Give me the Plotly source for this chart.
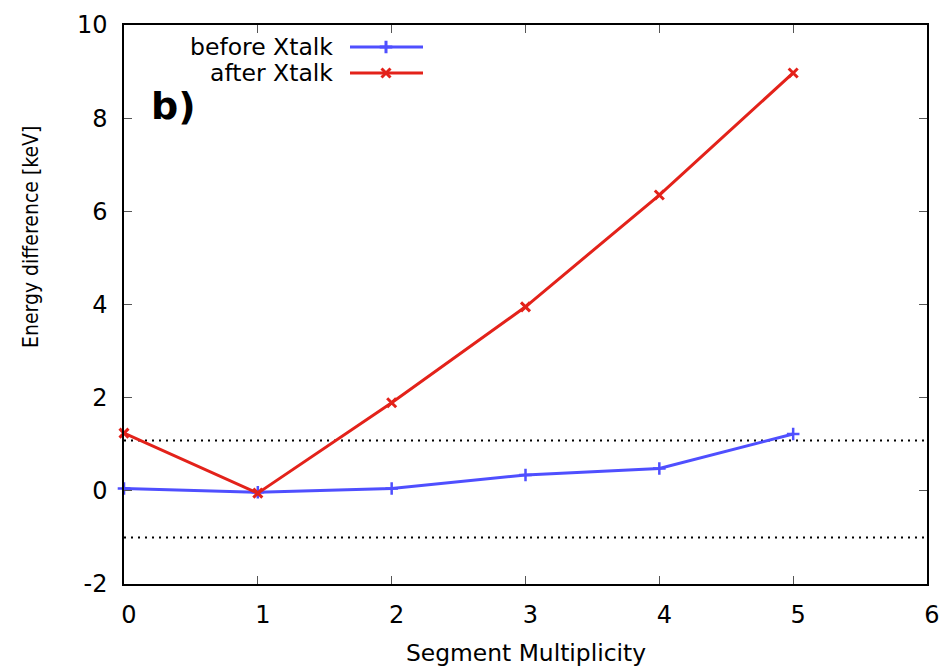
import plotly.graph_objects as go

# ---- data ----
multiplicity = [0, 1, 2, 3, 4, 5]
before_xtalk = [0.05, -0.03, 0.05, 0.34, 0.48, 1.22]
after_xtalk = [1.24, -0.05, 1.89, 3.95, 6.35, 8.97]
dotted_levels = [1.08, -1.0]
x_ticks = [0, 1, 2, 3, 4, 5, 6]
y_ticks = [-2, 0, 2, 4, 6, 8, 10]
y_tick_text = ["-2", "0", "2", "4", "6", "8", "10"]

BLUE = "#4f4fff"
RED = "#e3221a"
FONT = "DejaVu Sans"

W, H = 939, 667
L, R, T, B = 124, 12, 25, 83
PW, PH = W - L - R, H - T - B


def px(xp):
    return (xp - L) / PW


def py(yp):
    return 1 - (yp - T) / PH


fig = go.Figure()

fig.add_trace(go.Scatter(
    x=multiplicity, y=before_xtalk, mode="lines+markers",
    line=dict(color=BLUE, width=3),
    marker=dict(symbol="cross-thin", size=9, line=dict(color=BLUE, width=2.5)),
    cliponaxis=False, showlegend=False))
fig.add_trace(go.Scatter(
    x=multiplicity, y=after_xtalk, mode="lines+markers",
    line=dict(color=RED, width=3),
    marker=dict(symbol="x-thin", size=9, line=dict(color=RED, width=3)),
    cliponaxis=False, showlegend=False))

for lv in dotted_levels:
    fig.add_shape(type="line", xref="paper", x0=0, x1=1, yref="y", y0=lv, y1=lv,
                  line=dict(color="black", width=2, dash="2px,5px"), layer="below")

# ---- manual gnuplot-style legend (sample to the right of text) ----
legend_rows = [("before Xtalk", BLUE, "cross-thin", 47), ("after Xtalk", RED, "x-thin", 73)]
for name, col, sym, yp in legend_rows:
    fig.add_trace(go.Scatter(
        x=[px(350), px(423)], y=[py(yp), py(yp)], xaxis="x2", yaxis="y2",
        mode="lines", line=dict(color=col, width=3), showlegend=False, hoverinfo="skip",
        cliponaxis=False))
    fig.add_trace(go.Scatter(
        x=[px(386)], y=[py(yp)], xaxis="x2", yaxis="y2", mode="markers",
        marker=dict(symbol=sym, size=9, line=dict(color=col, width=3)),
        showlegend=False, hoverinfo="skip", cliponaxis=False))
    fig.add_annotation(text=name, xref="paper", yref="paper", x=px(335), y=py(yp),
                       xanchor="right", yanchor="middle", showarrow=False,
                       font=dict(family=FONT, size=23.5, color="black"))

fig.add_annotation(text="<b>b)</b>", xref="paper", yref="paper", x=px(149), y=py(106),
                   xanchor="left", yanchor="middle", showarrow=False,
                   font=dict(family=FONT, size=38, color="black"))

fig.add_annotation(text="Segment Multiplicity", xref="paper", yref="paper",
                   x=px(526), y=py(653), xanchor="center", yanchor="middle", showarrow=False,
                   font=dict(family=FONT, size=23.4, color="black"))
fig.add_annotation(text="Energy difference [keV]", xref="paper", yref="paper",
                   x=px(31), y=py(237), xanchor="center", yanchor="middle", showarrow=False,
                   textangle=-90,
                   font=dict(family="DejaVu Sans Condensed, DejaVu Sans", size=21, color="black"))

axis_common = dict(
    showgrid=False, zeroline=False, showline=True, linecolor="black", linewidth=1.5,
    mirror="ticks", ticks="inside", ticklen=8, tickwidth=1, tickcolor="#555",
    tickfont=dict(family=FONT, size=24, color="black"), automargin=False,
    ticklabeloverflow="allow",
)

fig.update_layout(
    width=W, height=H,
    margin=dict(l=L, r=R, t=T, b=B, pad=0, autoexpand=False),
    paper_bgcolor="white", plot_bgcolor="white",
    xaxis=dict(range=[0, 6], tickvals=x_ticks, ticklabelshift=5, ticklabelstandoff=8,
               **axis_common),
    yaxis=dict(range=[-2, 10], tickvals=y_ticks, ticktext=y_tick_text,
               ticklabelstandoff=10, **axis_common),
    xaxis2=dict(range=[0, 1], domain=[0, 1], overlaying="x", visible=False, fixedrange=True),
    yaxis2=dict(range=[0, 1], domain=[0, 1], overlaying="y", visible=False, fixedrange=True),
    showlegend=False,
)

fig.write_html("out.html")
